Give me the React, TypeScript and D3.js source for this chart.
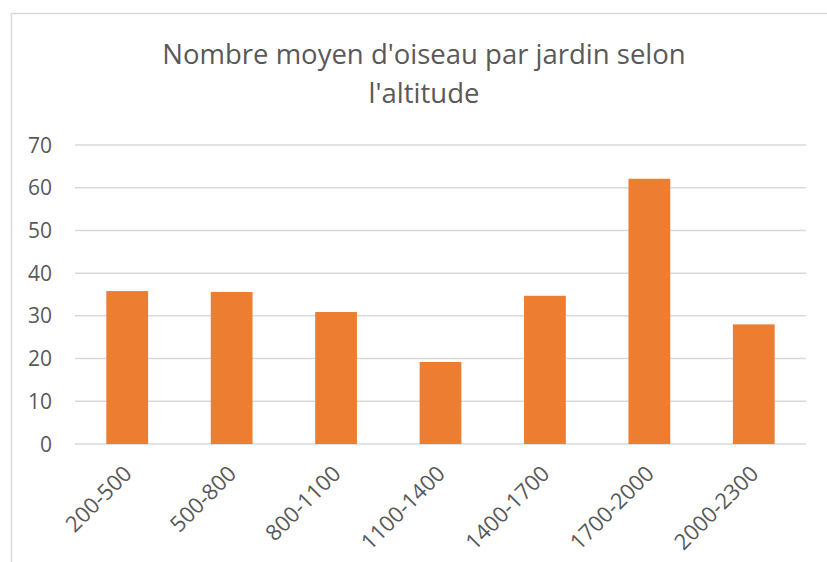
import { useEffect, useRef } from "react";
import * as d3 from "d3";

const categories = ["200-500", "500-800", "800-1100", "1100-1400", "1400-1700", "1700-2000", "2000-2300"];
const values = [35.8, 35.6, 30.9, 19.2, 34.7, 62.1, 28.0];
const yTicks = [0, 10, 20, 30, 40, 50, 60, 70];
const titleLines = ["Nombre moyen d'oiseau par jardin selon", "l'altitude"];

const W = 827;
const H = 562;

export default function App() {
  const svgRef = useRef<SVGSVGElement>(null);

  useEffect(() => {
    if (!svgRef.current) return;
    const svg = d3.select(svgRef.current);
    svg.selectAll("*").remove();

    const font = "'Open Sans', sans-serif";
    const textColor = "#595959";
    const gridColor = "#d9d9d9";

    // chart border (right and bottom fall outside the frame)
    svg
      .append("rect")
      .attr("x", 11.5)
      .attr("y", 13.5)
      .attr("width", W + 20)
      .attr("height", H + 20)
      .attr("fill", "#fff")
      .attr("stroke", gridColor)
      .attr("stroke-width", 1.5);

    const x = d3
      .scaleBand<string>()
      .domain(categories)
      .range([75, 806])
      .paddingInner(0.6)
      .paddingOuter(0.3);

    const y = d3.scaleLinear().domain([0, 70]).range([444, 145]);

    const title = svg
      .append("text")
      .attr("x", 424)
      .attr("text-anchor", "middle")
      .attr("fill", textColor)
      .style("font-family", font)
      .style("font-size", "27.5px");
    titleLines.forEach((line, i) => {
      title
        .append("tspan")
        .attr("x", 424)
        .attr("y", 64 + i * 39)
        .text(line);
    });

    // gridlines
    svg
      .append("g")
      .selectAll("line")
      .data(yTicks)
      .join("line")
      .attr("x1", 75)
      .attr("x2", 806)
      .attr("y1", (d) => y(d))
      .attr("y2", (d) => y(d))
      .attr("stroke", gridColor)
      .attr("stroke-width", 1.5);

    svg
      .append("g")
      .selectAll("text")
      .data(yTicks)
      .join("text")
      .attr("x", 52)
      .attr("y", (d) => y(d))
      .attr("dy", "0.36em")
      .attr("text-anchor", "end")
      .attr("fill", textColor)
      .style("font-family", font)
      .style("font-size", "21px")
      .text((d) => d);

    svg
      .append("g")
      .selectAll("rect")
      .data(values)
      .join("rect")
      .attr("x", (_, i) => x(categories[i])!)
      .attr("width", x.bandwidth())
      .attr("y", (d) => y(d))
      .attr("height", (d) => y(0) - y(d))
      .attr("fill", "#ED7D31");

    svg
      .append("g")
      .selectAll("text")
      .data(categories)
      .join("text")
      .attr(
        "transform",
        (d) => `translate(${x(d)! + x.bandwidth() / 2 + 6},${475}) rotate(-45)`
      )
      .attr("text-anchor", "end")
      .attr("fill", textColor)
      .style("font-family", font)
      .style("font-size", "22px")
      .text((d) => d);
  }, []);

  return (
    <svg
      ref={svgRef}
      width={W}
      height={H}
      style={{ position: "absolute", left: 0, top: 0, background: "#fff" }}
    />
  );
}
